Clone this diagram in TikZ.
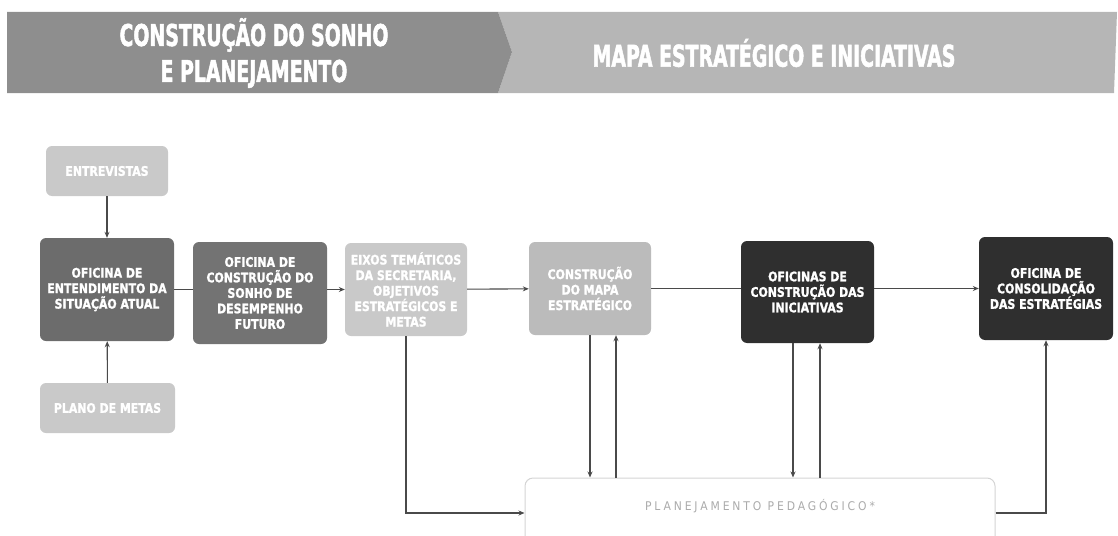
\documentclass[tikz,border=0pt]{standalone}
\usepackage{fontspec}
\setmainfont{DejaVu Sans Condensed}
\newfontfamily\hdrfont[FakeStretch=0.70,FakeBold=1.6]{DejaVu Sans Condensed Bold}
\newfontfamily\boxfont[FakeStretch=0.92,FakeBold=1.4]{DejaVu Sans Condensed Bold}
\newfontfamily\pedfont[LetterSpace=24]{DejaVu Sans Condensed}
\usetikzlibrary{arrows.meta}
\definecolor{hdrdark}{HTML}{8E8E8E}
\definecolor{hdrlight}{HTML}{B6B6B6}
\definecolor{boxmid}{HTML}{6C6C6C}
\definecolor{boxdark}{HTML}{2F2F2F}
\definecolor{boxlight}{HTML}{C9C9C9}
\definecolor{boxmap}{HTML}{BBBBBB}
\definecolor{linecol}{HTML}{4A4A4A}
\definecolor{pedtext}{HTML}{ABABAB}
\definecolor{pedborder}{HTML}{D4D4D4}
\tikzset{
  box/.style={rectangle, rounded corners=6pt, draw=none, text=white,
    font=\boxfont\fontsize{13.2}{15.5}\selectfont, align=center, inner sep=2pt},
  hdrtext/.style={text=white, font=\hdrfont\fontsize{30}{36}\selectfont, align=center},
  ln/.style={draw=linecol, line width=1.1pt},
  arr/.style={ln, -{Stealth[length=6pt,width=5pt]}},
}
\begin{document}
\begin{tikzpicture}[x=1pt,y=-1pt]
\useasboundingbox (0,0) rectangle (1118,535);
% header bands
\fill[hdrlight] (498,12) -- (1117,12) -- (1114,93) -- (498,93) -- (512,52) -- cycle;
\fill[hdrdark] (7,12) -- (498,12) -- (512,52) -- (498,93) -- (7,93) -- cycle;
\node[hdrtext] (h1) at (254,53) {CONSTRUÇÃO DO SONHO\\E PLANEJAMENTO};
\node[hdrtext] (h2) at (774,53) {MAPA ESTRATÉGICO E INICIATIVAS};
% boxes
\node[box, fill=boxlight, minimum width=122pt, minimum height=50pt] (ent) at (107,171) {ENTREVISTAS};
\node[box, fill=boxmid, minimum width=134pt, minimum height=103pt] (entend) at (107,289.5) {OFICINA DE\\ENTENDIMENTO DA\\SITUAÇÃO ATUAL};
\node[box, fill=boxlight, minimum width=135pt, minimum height=50pt] (plano) at (107.5,408) {PLANO DE METAS};
\node[box, fill=boxmid!95!white, minimum width=134pt, minimum height=102pt] (sonho) at (260,293) {OFICINA DE\\CONSTRUÇÃO DO\\SONHO DE\\DESEMPENHO\\FUTURO};
\node[box, fill=boxlight, minimum width=122pt, minimum height=93pt] (eixos) at (406,289.5) {EIXOS TEMÁTICOS\\DA SECRETARIA,\\OBJETIVOS\\ESTRATÉGICOS E\\METAS};
\node[box, fill=boxmap, minimum width=122pt, minimum height=93pt] (mapa) at (590,288.5) {CONSTRUÇÃO\\DO MAPA\\ESTRATÉGICO};
\node[box, fill=boxdark, minimum width=133pt, minimum height=102pt] (inic) at (807.5,292) {OFICINAS DE\\CONSTRUÇÃO DAS\\INICIATIVAS};
\node[box, fill=boxdark, minimum width=134pt, minimum height=103pt] (cons) at (1046,288.5) {OFICINA DE\\CONSOLIDAÇÃO\\DAS ESTRATÉGIAS};
\node[rectangle, rounded corners=8pt, draw=pedborder, line width=1pt, fill=white,
  minimum width=470pt, text=pedtext, font=\pedfont\fontsize{12}{14}\selectfont,
  text height=32pt, text depth=38pt, inner ysep=0pt, anchor=base] (ped) at (760,510) {PLANEJAMENTO PEDAGÓGICO*};
% helper coordinates
\coordinate (xm1) at (590,0);
\coordinate (xm2) at (616,0);
\coordinate (xi1) at (793,0);
\coordinate (xi2) at (820,0);
% connectors
\draw[arr] (ent) -- (entend);
\draw[arr] (plano) -- (entend);
\draw[ln] (entend.east) -- (entend.east -| sonho.west);
\draw[arr] (sonho.east |- eixos.east) -- (eixos.east -| eixos.west);
\draw[arr] (eixos) -- (mapa);
\draw[ln] (mapa.east) -- (mapa.east -| inic.west);
\draw[arr] (inic.east |- cons.east) -- (cons.west);
\draw[arr] (eixos.south) |- (ped.west);
\draw[arr] (mapa.south -| xm1) -- (ped.north -| xm1);
\draw[arr] (ped.north -| xm2) -- (mapa.south -| xm2);
\draw[arr] (inic.south -| xi1) -- (ped.north -| xi1);
\draw[arr] (ped.north -| xi2) -- (inic.south -| xi2);
\draw[arr] (ped.east) -| (cons.south);
\end{tikzpicture}
\end{document}
